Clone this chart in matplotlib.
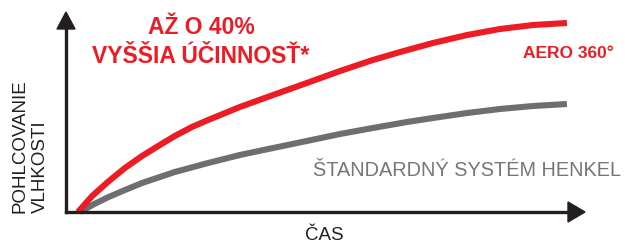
import matplotlib
matplotlib.use("Agg")
import matplotlib.pyplot as plt
from matplotlib.patches import Polygon

# Data (time 0..100, absorption 0..100)
time_aero = [0, 2.9, 6.1, 9.6, 13.1, 16.4, 19.8, 23.3, 26.6, 33.1, 39.9, 46.8, 53.6,
             60.3, 65.9, 72.6, 79.6, 86.3, 93.1, 100]
absorb_aero = [0, 8, 15, 22, 28, 33, 38, 42.5, 46, 52.5, 58.5, 64.5, 70.5,
               76, 80, 84.5, 88.5, 91.5, 93.5, 94.5]
time_std = [0.4, 1.4, 3.5, 6.1, 9.6, 13.1, 19.8, 26.6, 33.1, 39.9, 46.8, 53.6,
            60.3, 67.3, 72.6, 79.6, 86.3, 93.1, 100]
absorb_std = [0, 1.4, 4.2, 7.3, 11, 14.5, 20, 24.5, 28.5, 32, 35.5, 39,
              42, 45, 47, 49.5, 51.5, 53, 54]

title_lines = "AŽ O 40%\nVYŠŠIA ÚČINNOSŤ*"
aero_label = "AERO 360°"
std_label = "ŠTANDARDNÝ SYSTÉM HENKEL"
x_label = "ČAS"
y_label = "POHLCOVANIE\nVLHKOSTI"

red = "#ed1c24"
gray = "#6d6e71"
dark = "#231f20"
fonts = ["Liberation Sans Narrow", "Liberation Sans", "DejaVu Sans"]
plt.rcParams["font.family"] = fonts

W, H = 625, 244
fig = plt.figure(figsize=(W / 100, H / 100), dpi=100)

# axes frame in pixels: origin (66, 212), x tip 585, y tip 12
ax = fig.add_axes([66 / W, (H - 212) / H, (585 - 66) / W, 200 / H])
ax.set_xlim(-2.45, 103.7)
ax.set_ylim(0, 100)
ax.axis("off")

ax.plot(time_std, absorb_std, color=gray, lw=4.4, solid_capstyle="butt", clip_on=False)
ax.plot(time_aero, absorb_aero, color=red, lw=4.4, solid_capstyle="butt", clip_on=False)

# axis lines with arrowheads (figure pixel coords)
def px(x, y):
    return (x / W, 1 - y / H)

tr = fig.transFigure
fig.add_artist(plt.Line2D([66 / W, 572 / W], [1 - 212 / H, 1 - 212 / H], color=dark, lw=2.4, transform=tr))
fig.add_artist(plt.Line2D([66 / W, 66 / W], [1 - 212 / H, 1 - 26 / H], color=dark, lw=2.4, transform=tr))
fig.add_artist(Polygon([px(585, 212), px(568, 202), px(568, 222)], closed=True, color=dark, transform=tr))
fig.add_artist(Polygon([px(66, 12), px(57, 29), px(75, 29)], closed=True, color=dark, transform=tr))

fig.text(201 / W, 1 - 42 / H, title_lines, color=red, fontsize=16.5, fontweight="bold",
         ha="center", va="center", linespacing=1.3)
fig.text(568 / W, 1 - 54 / H, aero_label, color=red, fontsize=12.5, fontweight="bold",
         ha="center", va="center")
fig.text(467 / W, 1 - 170 / H, std_label, color="#767676", fontsize=14.3,
         ha="center", va="center")
fig.text(324 / W, 1 - 235 / H, x_label, color=dark, fontsize=13.5, ha="center", va="center")
fig.text(12 / W, 1 - 213 / H, y_label, color=dark, fontsize=13.5, rotation=90,
         ha="left", va="bottom", multialignment="left", linespacing=1.2)

fig.savefig("out.png", dpi=100)
